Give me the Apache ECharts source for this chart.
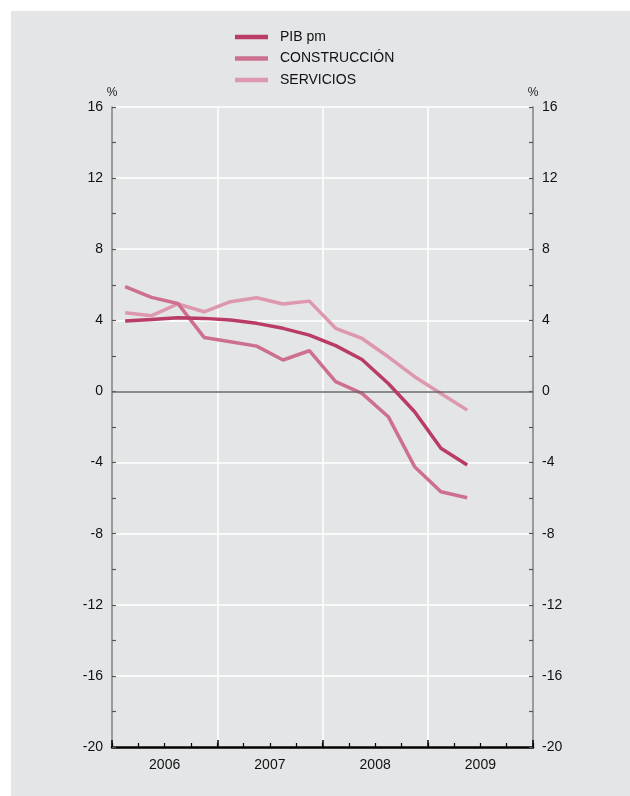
<!DOCTYPE html>
<html>
<head>
<meta charset="utf-8">
<script src="https://cdn.jsdelivr.net/npm/echarts@6/dist/echarts.min.js"></script>
<style>
html,body{margin:0;padding:0;background:#fff;}
#wrap{position:relative;width:630px;height:796px;}
#bg{position:absolute;left:11px;top:11px;right:0;bottom:0;background:#e4e5e7;}
#chart{position:absolute;left:0;top:0;width:630px;height:796px;}
</style>
</head>
<body>
<div id="wrap"><div id="bg"></div><div id="chart"></div></div>
<script>
// quarterly data 2006Q1 .. 2009Q2
const years = ['2006', '2007', '2008', '2009'];
const pib = [3.96, 4.05, 4.15, 4.11, 4.02, 3.83, 3.55, 3.17, 2.58, 1.8, 0.45, -1.14, -3.2, -4.14];
const construccion = [5.89, 5.29, 4.95, 3.04, 2.8, 2.55, 1.77, 2.29, 0.55, -0.11, -1.42, -4.23, -5.64, -5.98];
const servicios = [4.43, 4.26, 4.92, 4.48, 5.05, 5.27, 4.92, 5.08, 3.55, 2.98, 1.95, 0.83, -0.11, -1.05];
const seriesNames = ['PIB pm', 'CONSTRUCCIÓN', 'SERVICIOS'];
const colors = ['#b83c65', '#cd7090', '#dd97ae'];

const toXY = arr => arr.map((v, i) => [i + 0.5, v]);
const font = 'Liberation Sans, Arial, Helvetica, sans-serif';

const yAxisBase = (pos) => ({
  type: 'value', position: pos, min: -20, max: 16, interval: 4,
  name: '%', nameLocation: 'end', nameGap: 8,
  nameTextStyle: { color: '#222', fontSize: 12, fontFamily: font },
  axisLine: { show: true, lineStyle: { color: '#7a7a7a', width: 1.5 } },
  axisTick: { show: true, inside: true, length: 4, lineStyle: { color: '#555', width: 1.2 } },
  minorTick: { show: true, splitNumber: 2, length: 4, lineStyle: { color: '#555', width: 1.2 } },
  axisLabel: { color: '#111', fontSize: 14, fontFamily: font, margin: 9 },
  splitLine: { show: pos === 'left', lineStyle: { color: '#ffffff', width: 1.5 } }
});

const chart = echarts.init(document.getElementById('chart'), null, { renderer: 'canvas' });
chart.setOption({
  backgroundColor: 'transparent',
  animation: false,
  grid: { left: 112, right: 97, top: 107, bottom: 49, containLabel: false },
  legend: {
    orient: 'vertical', left: 230, top: 24,
    icon: 'rect', itemWidth: 33, itemHeight: 4.5, itemGap: 5.5,
    textStyle: { color: '#111', fontSize: 14, fontFamily: font, padding: [0, 0, 0, 7], lineHeight: 16 },
    data: seriesNames
  },
  xAxis: [
    {
      type: 'value', min: 0, max: 16, interval: 1, position: 'bottom',
      axisLine: { show: true, onZero: false, lineStyle: { color: '#000', width: 2.5 } },
      axisTick: { show: true, inside: true, length: 4, lineStyle: { color: '#000', width: 1.2 } },
      axisLabel: { show: false },
      splitLine: { show: false }
    },
    {
      type: 'category', data: years, position: 'bottom', boundaryGap: true,
      axisLine: { show: false, onZero: false },
      axisTick: { show: true, inside: true, length: 7, lineStyle: { color: '#000', width: 1.5 } },
      axisLabel: { color: '#111', fontSize: 14, fontFamily: font, margin: 11 },
      splitLine: { show: true, lineStyle: { color: '#ffffff', width: 1.5 } }
    }
  ],
  yAxis: [yAxisBase('left'), yAxisBase('right')],
  series: [
    {
      name: seriesNames[0], type: 'line', data: toXY(pib), xAxisIndex: 0, yAxisIndex: 0,
      symbol: 'none', z: 5,
      lineStyle: { color: colors[0], width: 3.5 }, itemStyle: { color: colors[0] },
      markLine: {
        silent: true, symbol: 'none', label: { show: false },
        lineStyle: { color: '#666', width: 1.5, type: 'solid' },
        data: [{ yAxis: 0 }]
      }
    },
    {
      name: seriesNames[1], type: 'line', data: toXY(construccion), xAxisIndex: 0, yAxisIndex: 0,
      symbol: 'none', z: 4,
      lineStyle: { color: colors[1], width: 3.5 }, itemStyle: { color: colors[1] }
    },
    {
      name: seriesNames[2], type: 'line', data: toXY(servicios), xAxisIndex: 0, yAxisIndex: 0,
      symbol: 'none', z: 3,
      lineStyle: { color: colors[2], width: 3.5 }, itemStyle: { color: colors[2] }
    }
  ]
});
</script>
</body>
</html>
